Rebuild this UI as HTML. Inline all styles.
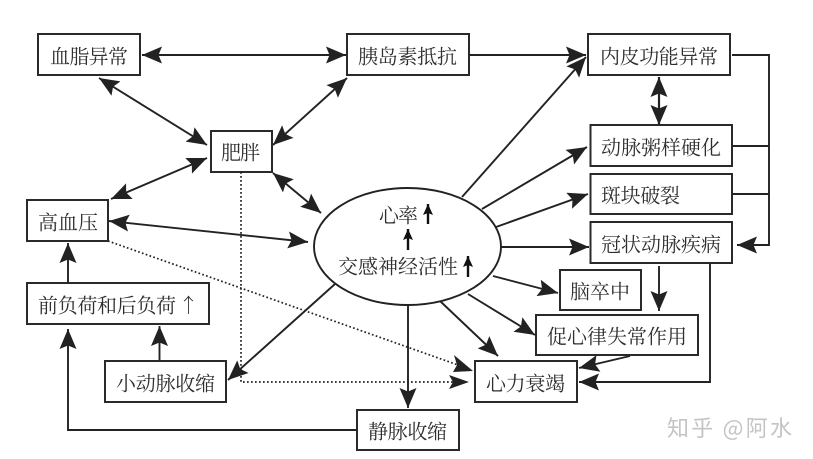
<!DOCTYPE html>
<html lang="zh"><head><meta charset="utf-8"><style>
html,body{margin:0;padding:0;background:#fff}
svg{display:block}
text{font-family:"Noto Serif CJK SC","Liberation Serif",serif;font-size:20px;font-weight:400;fill:#2e2e2e;dominant-baseline:central}
.b{fill:#fff;stroke:#2a2a2a;stroke-width:2}
.l{fill:none;stroke:#222;stroke-width:1.9}
.a{marker-end:url(#h)}
.d{marker-start:url(#h);marker-end:url(#h)}
.o{fill:none;stroke:#222;stroke-width:1.7;stroke-dasharray:1.7 2.3}
</style></head><body>
<svg width="813" height="459" viewBox="0 0 813 459" xmlns="http://www.w3.org/2000/svg">
<defs>
<marker id="h" markerUnits="userSpaceOnUse" markerWidth="22" markerHeight="18" refX="20" refY="9" orient="auto-start-reverse" viewBox="0 0 22 18"><path d="M20 9 L0 0.5 L3.5 9 L0 17.5 Z" fill="#222"/></marker>
<marker id="s" markerUnits="userSpaceOnUse" markerWidth="12" markerHeight="12" refX="11" refY="6" orient="auto" viewBox="0 0 12 12"><path d="M11 6 L0 1 L2 6 L0 11 Z" fill="#111"/></marker>
</defs>
<rect class="b" x="38" y="34" width="102" height="41"/>
<rect class="b" x="347" y="34" width="122" height="41"/>
<rect class="b" x="588" y="34" width="142" height="41"/>
<rect class="b" x="590.5" y="125" width="141.5" height="41"/>
<rect class="b" x="590.5" y="174" width="141.5" height="40"/>
<rect class="b" x="590.5" y="222" width="141.5" height="41"/>
<rect class="b" x="211" y="131" width="61" height="41"/>
<rect class="b" x="27" y="200" width="81" height="41"/>
<rect class="b" x="27" y="283" width="182" height="41"/>
<rect class="b" x="105" y="361" width="121" height="41"/>
<rect class="b" x="357" y="410" width="102" height="40"/>
<rect class="b" x="560" y="270" width="81" height="40"/>
<rect class="b" x="536" y="315" width="162" height="40"/>
<rect class="b" x="475" y="361" width="102" height="41"/>
<ellipse cx="407.5" cy="246.5" rx="93.5" ry="58.5" fill="#fff" stroke="#222" stroke-width="1.9"/>
<line class="l d" x1="142" y1="55" x2="346" y2="55"/>
<line class="l d" x1="99" y1="78" x2="207" y2="145"/>
<line class="l d" x1="347" y1="78" x2="273" y2="145"/>
<line class="l d" x1="207" y1="158" x2="111" y2="199"/>
<line class="l d" x1="273" y1="173" x2="321" y2="213"/>
<line class="l d" x1="109" y1="221" x2="308" y2="242"/>
<path class="o" d="M241 172V382H455"/>
<path class="o" d="M108 241L458 365"/>
<path d="M469 382L449 375L453 382L449 389Z" fill="#222"/>
<path d="M473 371L453 372L457 365L454 355Z" fill="#222"/>
<line class="l a" x1="68" y1="283" x2="68" y2="243"/>
<line class="l a" x1="159.5" y1="361" x2="159.5" y2="326"/>
<path class="l a" d="M357 430H68V329"/>
<line class="l a" x1="335" y1="284" x2="228" y2="380"/>
<line class="l a" x1="408" y1="305" x2="408" y2="408"/>
<line class="l a" x1="440" y1="301" x2="498" y2="356"/>
<line class="l a" x1="468" y1="294" x2="535" y2="335"/>
<line class="l a" x1="493" y1="276" x2="558" y2="293"/>
<line class="l a" x1="501" y1="247" x2="589" y2="247"/>
<line class="l a" x1="496" y1="227" x2="588" y2="194"/>
<line class="l a" x1="482" y1="209" x2="587" y2="147"/>
<line class="l a" x1="462" y1="197" x2="586" y2="57"/>
<line class="l a" x1="469" y1="55" x2="586" y2="55"/>
<line class="l d" x1="659" y1="77" x2="659" y2="125" style="stroke-width:2.2"/>
<path class="l a" d="M732 55H769V245H737"/>
<path class="l" d="M732 146H769M732 194H769"/>
<line class="l a" x1="659" y1="266" x2="659" y2="311"/>
<path class="l a" d="M710 263V382H579"/>
<line class="l a" x1="630" y1="356" x2="579" y2="368"/>
<line x1="428" y1="224" x2="428" y2="204" stroke="#111" stroke-width="2.4" marker-end="url(#s)"/>
<line x1="408" y1="250" x2="408" y2="229" stroke="#111" stroke-width="2.4" marker-end="url(#s)"/>
<line x1="468" y1="277" x2="468" y2="256" stroke="#111" stroke-width="2.4" marker-end="url(#s)"/>
<text x="50" y="55" textLength="78">血脂异常</text>
<text x="358" y="55" textLength="99">胰岛素抵抗</text>
<text x="600" y="55" textLength="118">内皮功能异常</text>
<text x="601" y="146" textLength="120">动脉粥样硬化</text>
<text x="601" y="194" textLength="79">斑块破裂</text>
<text x="601" y="243" textLength="120">冠状动脉疾病</text>
<text x="221" y="151" textLength="39">肥胖</text>
<text x="38" y="221" textLength="60">高血压</text>
<text x="38" y="304" textLength="138">前负荷和后负荷</text>
<text x="188.5" y="304" text-anchor="middle">↑</text>
<text x="116" y="382" textLength="99">小动脉收缩</text>
<text x="368" y="430" textLength="79">静脉收缩</text>
<text x="570" y="290" textLength="60">脑卒中</text>
<text x="547" y="335" textLength="140">促心律失常作用</text>
<text x="486" y="382" textLength="79">心力衰竭</text>
<text x="379" y="214" textLength="39">心率</text>
<text x="338" y="265" textLength="120">交感神经活性</text>
<text x="667" y="427" textLength="125" style="font-family:'Noto Sans CJK SC','Liberation Sans',sans-serif;font-size:22px;fill:#c4c4c4">知乎 @阿水</text>
</svg>
</body></html>
